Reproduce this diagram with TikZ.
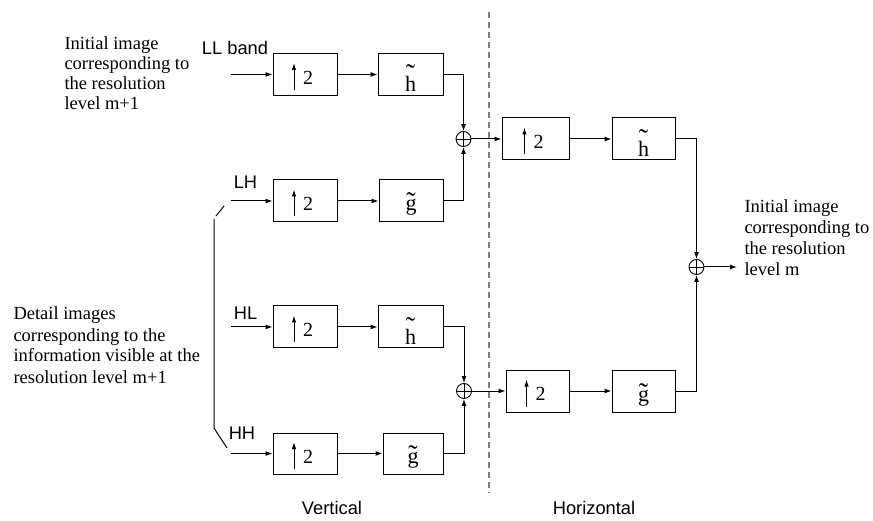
\documentclass[tikz,border=0pt]{standalone}
\usepackage{fontspec}
\setmainfont{Liberation Serif}
\setsansfont{Liberation Sans}
\usetikzlibrary{arrows.meta}
\newcommand{\mytld}[2]{\leavevmode\setbox0=\hbox{#2}\rlap{\hbox to\wd0{\hss\raisebox{#1}{\fontsize{28}{28}\selectfont\char"02DC}\hss}}\box0}
\begin{document}
\begin{tikzpicture}[x=1pt,y=-1pt,line width=1pt,
  >={Latex[length=7pt,width=5pt]},
  blk/.style={draw,rectangle,minimum height=42pt,inner sep=0pt},
  upbox/.style={blk,path picture={
      \draw[-{Latex[length=7pt,width=4.5pt]}] ([xshift=-11pt,yshift=-15.5pt]path picture bounding box.center) -- ++(0pt,27pt);
      \node[inner sep=0pt,font=\fontsize{20}{22}\selectfont] at ([xshift=3pt,yshift=-3pt]path picture bounding box.center) {2};}},
  filt/.style={blk,font=\fontsize{22}{24}\selectfont},
  hfilt/.style={filt,text height=35pt,text depth=0pt},
  gfilt/.style={filt,text height=20pt,text depth=0pt},
  sumn/.style={draw,circle,minimum size=15pt,inner sep=0pt,line width=0.9pt,path picture={
      \draw[line width=0.9pt] (path picture bounding box.north) -- (path picture bounding box.south)
        (path picture bounding box.west) -- (path picture bounding box.east);}},
  sertext/.style={align=left,inner sep=0pt},
  sans/.style={font=\sffamily\fontsize{18.3}{20}\selectfont,inner sep=0pt}]
\useasboundingbox (0,0) rectangle (873,521);

% vertical stage
\node[upbox,minimum width=64pt] (b11) at (305,74.5) {};
\node[hfilt,minimum width=65pt] (b12) at (410.5,74.5) {\mytld{8pt}{h}};
\node[upbox,minimum width=64pt] (b21) at (305,201) {};
\node[gfilt,minimum width=64pt] (b22) at (411,201) {\mytld{-1pt}{g}};
\node[upbox,minimum width=64pt] (b31) at (305,327) {};
\node[hfilt,minimum width=65pt] (b32) at (410.5,327) {\mytld{8pt}{h}};
\node[upbox,minimum width=64pt,minimum height=41pt] (b41) at (305,453.5) {};
\node[gfilt,minimum width=60pt,minimum height=41pt] (b42) at (413,453.5) {\mytld{-1pt}{g}};

\node[sumn] (s1) at (463.5,139) {};
\node[sumn] (s2) at (464,391) {};

% horizontal stage
\node[upbox,minimum width=67pt] (h1) at (535.5,139) {};
\node[hfilt,minimum width=63pt] (h2) at (643.5,139) {\mytld{8pt}{h}};
\node[upbox,minimum width=63pt] (h3) at (537.5,391) {};
\node[gfilt,minimum width=63pt] (h4) at (643.5,391) {\mytld{-1pt}{g}};
\node[sumn] (s3) at (696.5,267) {};

% inputs / output
\coordinate (i1) at (231,74.5);
\coordinate (i2) at (231,201);
\coordinate (i3) at (231,327);
\coordinate (i4) at (231,453.5);
\coordinate (o1) at (737,267);

\draw[->] (i1) -- (b11);
\draw[->] (i2) -- (b21);
\draw[->] (i3) -- (b31);
\draw[->] (i4) -- (b41);
\draw[->] (b11) -- (b12);
\draw[->] (b21) -- (b22);
\draw[->] (b31) -- (b32);
\draw[->] (b41) -- (b42);
\draw[->] (b12.east) -| (s1.north);
\draw[->] (b22.east) -| (s1.south);
\draw[->] (b32.east) -| (s2.north);
\draw[->] (b42.east) -| (s2.south);
\draw[->] (s1) -- (h1);
\draw[->] (s2) -- (h3);
\draw[->] (h1) -- (h2);
\draw[->] (h3) -- (h4);
\draw[->] (h2.east) -| (s3.north);
\draw[->] (h4.east) -| (s3.south);
\draw[->] (s3) -- (o1);

% bracket for detail images
\coordinate (k1) at (224,206);
\coordinate (k2) at (216,216);
\coordinate (k3) at (214,219);
\coordinate (k4) at (214,428);
\coordinate (k5) at (227,448);
\draw (k1) -- (k2);
\draw (k3) -- (k4) -- (k5);

% divider
\coordinate (d1) at (489,12);
\coordinate (d2) at (489,493);
\draw[gray,line width=1.2pt,dash pattern=on 6pt off 4pt] (d1) -- (d2);

% labels
\node[sans] (tll) at (235,48) {LL band};
\node[sans] (tlh) at (245.5,182) {LH};
\node[sans] (thl) at (245.5,313) {HL};
\node[sans] (thh) at (242,433) {HH};
\node[sans] (tv) at (332,508) {Vertical};
\node[sans] (th) at (594,508) {Horizontal};

\node[sertext,font=\fontsize{18.5}{20}\selectfont,anchor=base west] (t1) at (64,110) {Initial image\\corresponding to\\the resolution\\level m+1};
\node[sertext,font=\fontsize{18.5}{21}\selectfont,anchor=base west] (t2) at (13,383) {Detail images\\corresponding to the\\information visible at the\\resolution level m+1};
\node[sertext,font=\fontsize{18.5}{21.3}\selectfont,anchor=base west] (t3) at (744,276) {Initial image\\corresponding to\\the resolution\\level m};
\end{tikzpicture}
\end{document}
